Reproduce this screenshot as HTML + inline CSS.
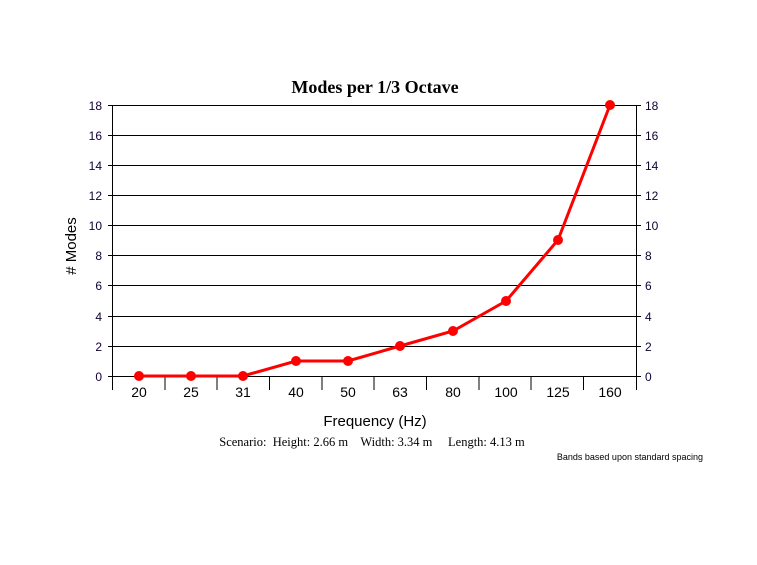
<!DOCTYPE html>
<html><head><style>
body{margin:0;background:#fff;}
svg text{font-family:"Liberation Sans",sans-serif;}
</style></head><body>
<svg width="757" height="560" xmlns="http://www.w3.org/2000/svg">
<rect width="757" height="560" fill="#fff"/>
<text x="375" y="93" text-anchor="middle" font-weight="bold" font-size="18" style="font-family:'Liberation Serif',serif">Modes per 1/3 Octave</text>
<g stroke="#000" stroke-width="1">
<line x1="108" y1="105.5" x2="641" y2="105.5"/>
<line x1="108" y1="135.5" x2="641" y2="135.5"/>
<line x1="108" y1="165.5" x2="641" y2="165.5"/>
<line x1="108" y1="195.5" x2="641" y2="195.5"/>
<line x1="108" y1="225.5" x2="641" y2="225.5"/>
<line x1="108" y1="255.5" x2="641" y2="255.5"/>
<line x1="108" y1="285.5" x2="641" y2="285.5"/>
<line x1="108" y1="316.5" x2="641" y2="316.5"/>
<line x1="108" y1="346.5" x2="641" y2="346.5"/>
<line x1="108" y1="376.5" x2="641" y2="376.5"/>
<line x1="112.5" y1="105" x2="112.5" y2="390"/>
<line x1="636.5" y1="105" x2="636.5" y2="390"/>
<line x1="165" y1="376" x2="165" y2="390"/>
<line x1="217" y1="376" x2="217" y2="390"/>
<line x1="269.5" y1="376" x2="269.5" y2="390"/>
<line x1="322" y1="376" x2="322" y2="390"/>
<line x1="374" y1="376" x2="374" y2="390"/>
<line x1="426.5" y1="376" x2="426.5" y2="390"/>
<line x1="479" y1="376" x2="479" y2="390"/>
<line x1="531" y1="376" x2="531" y2="390"/>
<line x1="583.5" y1="376" x2="583.5" y2="390"/>
</g>
<g font-size="12" fill="#100030" text-anchor="end">
<text x="102" y="110">18</text><text x="102" y="140">16</text><text x="102" y="170">14</text>
<text x="102" y="200">12</text><text x="102" y="230">10</text><text x="102" y="260">8</text>
<text x="102" y="290">6</text><text x="102" y="321">4</text><text x="102" y="351">2</text>
<text x="102" y="381">0</text>
</g>
<g font-size="12" fill="#100030" text-anchor="start">
<text x="645" y="110">18</text><text x="645" y="140">16</text><text x="645" y="170">14</text>
<text x="645" y="200">12</text><text x="645" y="230">10</text><text x="645" y="260">8</text>
<text x="645" y="290">6</text><text x="645" y="321">4</text><text x="645" y="351">2</text>
<text x="645" y="381">0</text>
</g>
<g font-size="14" fill="#000" text-anchor="middle">
<text x="139" y="397">20</text><text x="191" y="397">25</text><text x="243" y="397">31</text>
<text x="296" y="397">40</text><text x="348" y="397">50</text><text x="400" y="397">63</text>
<text x="453" y="397">80</text><text x="506" y="397">100</text><text x="558" y="397">125</text>
<text x="610" y="397">160</text>
</g>
<text x="375" y="426" text-anchor="middle" font-size="15">Frequency (Hz)</text>
<text x="76" y="246" text-anchor="middle" font-size="15" transform="rotate(-90 76 246)"># Modes</text>
<text x="372" y="446" text-anchor="middle" font-size="12.5" style="font-family:'Liberation Serif',serif" xml:space="preserve">Scenario:  Height: 2.66 m    Width: 3.34 m     Length: 4.13 m</text>
<text x="703" y="460" text-anchor="end" font-size="9">Bands based upon standard spacing</text>
<polyline fill="none" stroke="#ff0000" stroke-width="3" points="139,376 191,376 243,376 296,361 348,361 400,346 453,331 506,301 558,240 610,105"/>
<g fill="#ff0000">
<circle cx="139" cy="376" r="5"/><circle cx="191" cy="376" r="5"/><circle cx="243" cy="376" r="5"/>
<circle cx="296" cy="361" r="5"/><circle cx="348" cy="361" r="5"/><circle cx="400" cy="346" r="5"/>
<circle cx="453" cy="331" r="5"/><circle cx="506" cy="301" r="5"/><circle cx="558" cy="240" r="5"/>
<circle cx="610" cy="105" r="5"/>
</g>
</svg>
</body></html>
